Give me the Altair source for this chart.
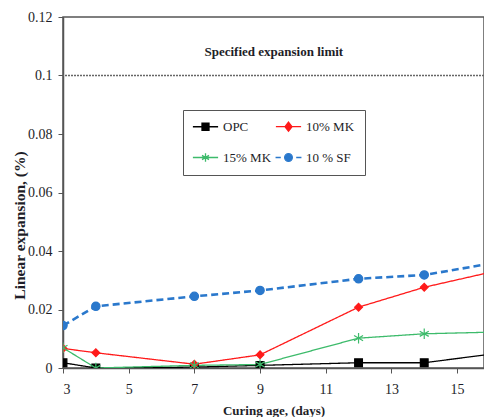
import altair as alt
import pandas as pd

# Curing age (days); last point lies beyond the visible (cropped) right edge
days = [3, 4, 7, 9, 12, 14, 28]
opc = [0.0018, 0.0, 0.0003, 0.0009, 0.0018, 0.0018, 0.022]
mk10 = [0.0067, 0.0052, 0.0013, 0.0045, 0.0208, 0.0276, 0.0633]
mk15 = [0.0069, 0.0, 0.0009, 0.0012, 0.0102, 0.0117, 0.0155]
sf10 = [0.0145, 0.0211, 0.0245, 0.0265, 0.0305, 0.0318, 0.0589]

series_names = ["OPC", "10% MK", "15% MK", "10 % SF"]
series_colors = ["#000000", "#ff1a1a", "#3dbb6b", "#2a78cc"]
ASTERISK = "M0,-1.1L0,1.1M-0.95,-0.55L0.95,0.55M-0.95,0.55L0.95,-0.55"
series_shapes = ["square", "diamond", ASTERISK, "circle"]
series_filled = [True, True, False, True]
series_sizes = [60, 60, 90, 70]
series_dashes = [[1, 0], [1, 0], [1, 0], [7, 4]]
series_widths = [1.3, 1.3, 1.3, 2.6]
# legend symbols: line segment + marker
legend_symbols = [
    "M-3.6,0L3.6,0M-1,-1L1,-1L1,1L-1,1Z",
    "M-3.6,0L3.6,0M0,-1.3L1,0L0,1.3L-1,0Z",
    "M-3.6,0L3.6,0M0,-1.2L0,1.2M-1,-0.6L1,0.6M-1,0.6L1,-0.6",
    "M-3.7,0L-2.2,0M2.2,0L3.7,0M-1.1,0A1.1,1.1,0,1,1,1.1,0A1.1,1.1,0,1,1,-1.1,0Z",
]

limit_value = 0.1
limit_label = "Specified expansion limit"
limit_label_pos = [9.42, 0.108]

x_ticks = [3, 5, 7, 9, 11, 13, 15]
y_ticks = [0, 0.02, 0.04, 0.06, 0.08, 0.1, 0.12]
y_tick_labels = ["0", "0.02", "0.04", "0.06", "0.08", "0.1", "0.12"]

rows = []
for name, vals in zip(series_names, [opc, mk10, mk15, sf10]):
    for d, v in zip(days, vals):
        rows.append({"day": d, "value": v, "series": name})
df = pd.DataFrame(rows)

FONT = "Liberation Serif"
TXT = "#1e1e28"
XMAX = 15.82

y_label_expr = "[" + ",".join("'%s'" % s for s in y_tick_labels) + "][round(datum.value / 0.02)]"

xscale = alt.Scale(domain=[3, XMAX], nice=False, zero=False)
yscale = alt.Scale(domain=[0, 0.12], nice=False)

xenc = alt.X("day:Q", scale=xscale,
             axis=alt.Axis(values=x_ticks, title="Curing age, (days)", grid=False,
                           format="d", titlePadding=8, labelPadding=9))
yenc = alt.Y("value:Q", scale=yscale,
             axis=alt.Axis(values=y_ticks, title="Linear expansion, (%)", grid=False,
                           labelExpr=y_label_expr, labelPadding=6, titlePadding=0,
                           titleFontSize=15.5, titleY=208))

layers = []

limit_df = pd.DataFrame({"value": [limit_value]})
layers.append(alt.Chart(limit_df).mark_rule(strokeDash=[2, 1], color="#666", strokeWidth=1.5).encode(
    y=yenc))

label_df = pd.DataFrame({"day": [limit_label_pos[0]], "value": [limit_label_pos[1]], "t": [limit_label]})
layers.append(alt.Chart(label_df).mark_text(font=FONT, fontSize=13, fontWeight="bold", color=TXT).encode(
    x=xenc, y=yenc, text="t:N"))

for i, name in enumerate(series_names):
    sub = df[df.series == name]
    layers.append(alt.Chart(sub).mark_line(
        clip=True, color=series_colors[i], strokeDash=series_dashes[i],
        strokeWidth=series_widths[i]).encode(x=xenc, y=yenc))

for i, name in enumerate(series_names):
    sub = df[df.series == name]
    layers.append(alt.Chart(sub).mark_point(
        clip=True, shape=series_shapes[i], filled=series_filled[i], size=series_sizes[i],
        color=series_colors[i], stroke=series_colors[i], strokeWidth=1.2, opacity=1
    ).encode(x=xenc, y=yenc))

legend = alt.Legend(orient="none", legendX=120, legendY=93, columns=2, direction="horizontal",
                    title=None, strokeColor="#555", fillColor="white", padding=10,
                    columnPadding=0, rowPadding=16, labelFont=FONT, labelFontSize=13,
                    labelColor=TXT, symbolSize=49, symbolOffset=6, labelOffset=11,
                    symbolStrokeWidth=1.3, symbolOpacity=1)

# legend-only layer: its points sit beyond the visible x range and are clipped
leg_df = df[df.day > XMAX]
color_scale = alt.Scale(domain=series_names, range=series_colors)
layers.append(alt.Chart(leg_df).mark_point(filled=True, clip=True, opacity=1, size=49,
                                            strokeWidth=1.3).encode(
    x=xenc, y=yenc,
    color=alt.Color("series:N", scale=color_scale, legend=legend, sort=series_names),
    stroke=alt.Stroke("series:N", scale=color_scale, legend=legend, sort=series_names),
    shape=alt.Shape("series:N", scale=alt.Scale(domain=series_names, range=legend_symbols),
                    legend=legend, sort=series_names),
))

chart = alt.layer(*layers).properties(
    width=421, height=351, autosize="none", background="white",
    padding={"left": 63, "top": 17, "right": 0, "bottom": 49},
).configure_view(stroke="#555", strokeWidth=1.5).configure_axis(
    labelFont=FONT, labelFontSize=14, labelColor=TXT,
    titleFont=FONT, titleFontSize=13, titleFontWeight="bold", titleColor=TXT,
    domainColor="#555", domainWidth=1.5, tickColor="#555", tickSize=5,
)

chart.save("out.html", embed_options={"renderer": "svg", "actions": False})
